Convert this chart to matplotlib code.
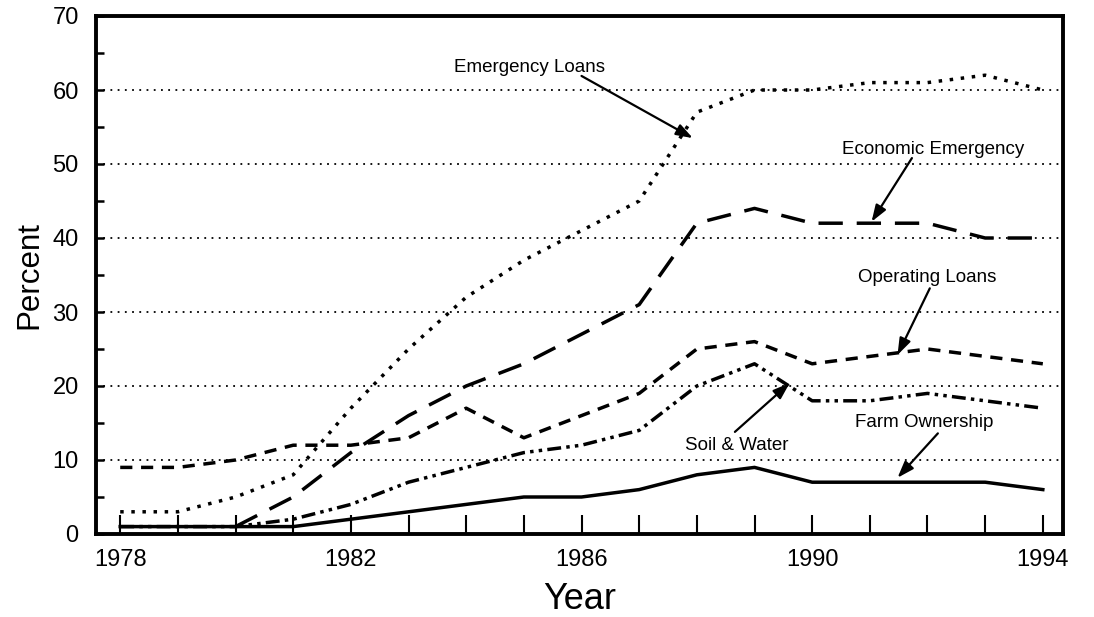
import matplotlib

matplotlib.use("Agg")

import matplotlib.pyplot as plt
from matplotlib.ticker import MultipleLocator

years = list(range(1978, 1995))

emergency = [3, 3, 5, 8, 17, 25, 32, 37, 41, 45, 57, 60, 60, 61, 61, 62, 60]
econ_years = list(range(1980, 1995))
economic = [1, 5, 11, 16, 20, 23, 27, 31, 42, 44, 42, 42, 42, 40, 40]
operating = [9, 9, 10, 12, 12, 13, 17, 13, 16, 19, 25, 26, 23, 24, 25, 24, 23]
soil_water = [1, 1, 1, 2, 4, 7, 9, 11, 12, 14, 20, 23, 18, 18, 19, 18, 17]
farm_own = [1, 1, 1, 1, 2, 3, 4, 5, 5, 6, 8, 9, 7, 7, 7, 7, 6]

# etiqueta, posición del texto, cola y punta de la flecha (año, porcentaje)
labels = [
    ("Emergency Loans", (1985.1, 63.1), (1986.0, 61.9), (1987.93, 53.5)),
    ("Economic Emergency", (1992.1, 51.9), (1991.73, 50.8), (1991.03, 42.2)),
    ("Operating Loans", (1992.0, 34.6), (1992.04, 33.2), (1991.48, 24.2)),
    ("Soil & Water", (1988.7, 12.0), (1988.66, 13.8), (1989.61, 20.4)),
    ("Farm Ownership", (1991.95, 15.1), (1992.18, 13.6), (1991.48, 7.6)),
]

plt.rcParams["font.family"] = ["Liberation Sans", "DejaVu Sans"]

fig = plt.figure(figsize=(10.94, 6.17), dpi=100)
ax = fig.add_axes([96 / 1094, 1 - 534 / 617, (1063 - 96) / 1094, (534 - 16) / 617])

for y in range(10, 70, 10):
    ax.axhline(y, color="black", lw=1.3, ls=(0, (1, 3)), zorder=1)

lw = 2.5
ax.plot(years, emergency, color="black", lw=lw, ls=(0, (1, 2.2)))
ax.plot(econ_years, economic, color="black", lw=lw, ls=(0, (7, 4)))
ax.plot(years, operating, color="black", lw=lw, ls=(0, (3.5, 2.5)))
ax.plot(years, soil_water, color="black", lw=lw, ls=(0, (4, 1.5, 1, 1.5, 1, 1.5)))
ax.plot(years, farm_own, color="black", lw=lw, ls="-")

for text, (tx, ty), tail, head in labels:
    ax.text(tx, ty, text, ha="center", va="center", fontsize=13.5)
    ax.annotate("", xy=head, xytext=tail,
                arrowprops=dict(arrowstyle="-|>,head_length=1.0,head_width=0.35",
                                color="black", lw=1.6, shrinkA=0, shrinkB=0))

ax.set_xlim(1977.58, 1994.35)
ax.set_ylim(0, 70)
ax.set_xticks([1978, 1982, 1986, 1990, 1994])
ax.xaxis.set_minor_locator(MultipleLocator(1))
ax.yaxis.set_major_locator(MultipleLocator(10))
ax.yaxis.set_minor_locator(MultipleLocator(5))
ax.tick_params(axis="x", which="both", direction="in", length=14, width=1.5,
               labelsize=17, pad=11)
ax.tick_params(axis="y", which="both", direction="in", length=6, width=1.8,
               labelsize=17, pad=12.5)

for spine in ax.spines.values():
    spine.set_linewidth(2.8)

ax.set_xlabel("Year", fontsize=26, labelpad=8)
ax.set_ylabel("Percent", fontsize=22.5, labelpad=6)

fig.savefig("out.png", dpi=100)
